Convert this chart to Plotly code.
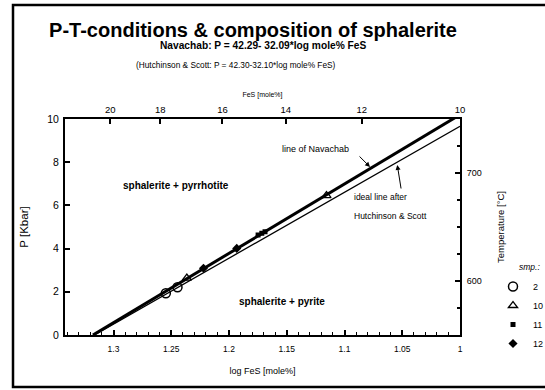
import plotly.graph_objects as go

# ---- data ----
nav_x = [1.3178, 1.0]          # line of Navachab (log FeS)
nav_P = [0.0, 10.2]
hs_x = [1.3165, 1.0]           # ideal line after Hutchinson & Scott
hs_P = [0.0, 9.66]

smp_names = ["2", "10", "11", "12"]
smp2_x = [1.2547, 1.2446]
smp2_P = [1.93, 2.21]
smp10_x = [1.2365, 1.1156]
smp10_P = [2.63, 6.45]
smp11_x = [1.1748, 1.1716, 1.1688]
smp11_P = [4.63, 4.71, 4.78]
smp12_x = [1.2221, 1.1933]
smp12_P = [3.09, 4.01]

top_tick_pos = [1.3029, 1.2596, 1.2057, 1.1509, 1.0851, 1.0]
top_tick_labels = ["20", "18", "16", "14", "12", "10"]

FONT = "Liberation Sans, Arial, sans-serif"

fig = go.Figure()

fig.add_trace(go.Scatter(x=nav_x, y=nav_P, mode="lines", line=dict(color="black", width=3),
                         showlegend=False, hoverinfo="skip"))
fig.add_trace(go.Scatter(x=hs_x, y=hs_P, mode="lines", line=dict(color="black", width=1.3),
                         showlegend=False, hoverinfo="skip"))

fig.add_trace(go.Scatter(x=smp2_x, y=smp2_P, mode="markers", name=smp_names[0],
                         marker=dict(symbol="circle-open", size=9, color="black", line=dict(color="black", width=1.5))))
fig.add_trace(go.Scatter(x=smp10_x, y=smp10_P, mode="markers", name=smp_names[1],
                         marker=dict(symbol="triangle-up-open", size=8, color="black", line=dict(color="black", width=1.3))))
fig.add_trace(go.Scatter(x=smp11_x, y=smp11_P, mode="markers", name=smp_names[2],
                         marker=dict(symbol="square", size=5, color="black")))
fig.add_trace(go.Scatter(x=smp12_x, y=smp12_P, mode="markers", name=smp_names[3],
                         marker=dict(symbol="diamond", size=7, color="black")))

# empty trace to activate the secondary axes
fig.add_trace(go.Scatter(x=[], y=[], xaxis="x2", yaxis="y2", showlegend=False, hoverinfo="skip"))

axis_common = dict(showline=True, linecolor="black", linewidth=2, ticks="inside",
                   tickcolor="black", tickwidth=1.5, ticklen=5, showgrid=False, zeroline=False)

fig.update_layout(
    width=545, height=390,
    margin=dict(l=65, r=85, t=119, b=55, autoexpand=False),
    paper_bgcolor="white", plot_bgcolor="white",
    font=dict(family=FONT, color="black"),
    title=dict(text="<b>P-T-conditions & composition of sphalerite</b>",
               font=dict(size=20, family=FONT, color="black"),
               x=(253 - 65) / 395, xref="paper", xanchor="center",
               y=1 - 30 / 390, yref="container", yanchor="middle"),
    xaxis=dict(range=[1.342, 1.0], tick0=1.0, dtick=0.05,
               tickfont=dict(size=8.5), ticklabelstandoff=5,
               minor=dict(dtick=0.01, ticks="inside", ticklen=3, tickcolor="black", tickwidth=1),
               title=dict(text="log FeS [mole%]", font=dict(size=9), standoff=14),
               **axis_common),
    xaxis2=dict(range=[1.342, 1.0], overlaying="x", side="top", anchor="y",
                tickmode="array", tickvals=top_tick_pos, ticktext=top_tick_labels,
                tickfont=dict(size=9.5),
                title=dict(text="FeS [mole%]", font=dict(size=7), standoff=6),
                **axis_common),
    yaxis=dict(range=[0, 10], tick0=0, dtick=2, tickfont=dict(size=10.5), ticklabelstandoff=2,
               title=dict(text="P [Kbar]", font=dict(size=11.5), standoff=16),
               **axis_common),
    yaxis2=dict(range=[550, 750], overlaying="y", side="right", anchor="x",
                tick0=600, dtick=100, tickfont=dict(size=9), ticklabelstandoff=3,
                minor=dict(dtick=25, tick0=550, ticks="inside", ticklen=3, tickcolor="black", tickwidth=1.5),
                title=dict(text="Temperature [°C]", font=dict(size=9.5), standoff=17),
                **axis_common),
    legend=dict(x=(493 - 65) / 395, y=(335 - 272) / 216, xanchor="left", yanchor="top",
                font=dict(size=9), bgcolor="rgba(0,0,0,0)", itemwidth=30,
                tracegroupgap=0),
    showlegend=True,
)

# legend heading
fig.add_annotation(text="<i>smp.:</i>", xref="paper", yref="paper",
                   x=(529 - 65) / 395, y=(335 - 267) / 216, showarrow=False,
                   font=dict(size=8.5), xanchor="center", yanchor="middle")

# subtitles
fig.add_annotation(text="<b>Navachab: P = 42.29- 32.09*log mole% FeS</b>", xref="paper", yref="paper",
                   x=0.5, y=(335 - 46) / 216, showarrow=False, font=dict(size=10.2),
                   xanchor="center", yanchor="middle")
fig.add_annotation(text="(Hutchinson & Scott: P = 42.30-32.10*log mole% FeS)", xref="paper", yref="paper",
                   x=0.4329, y=(335 - 65) / 216, showarrow=False, font=dict(size=8.3),
                   xanchor="center", yanchor="middle")

# field labels
fig.add_annotation(text="<b>sphalerite + pyrrhotite</b>", x=1.2458, y=6.94, showarrow=False,
                   font=dict(size=10))
fig.add_annotation(text="<b>sphalerite + pyrite</b>", x=1.1541, y=1.54, showarrow=False,
                   font=dict(size=10))
fig.add_annotation(text="line of Navachab", x=1.1255, y=8.61, showarrow=False, font=dict(size=9))
fig.add_annotation(text="ideal line after", x=1.0931, y=6.39, showarrow=False, font=dict(size=8.5),
                   xanchor="left")
fig.add_annotation(text="Hutchinson & Scott", x=1.0935, y=5.53, showarrow=False, font=dict(size=8.5),
                   xanchor="left")
# arrows
fig.add_annotation(x=1.0779, y=7.78, ax=-12, ay=-12, text="", showarrow=True,
                   arrowhead=2, arrowsize=1, arrowwidth=1, arrowcolor="black")
fig.add_annotation(x=1.0543, y=7.87, ax=4, ay=25, text="", showarrow=True,
                   arrowhead=2, arrowsize=1, arrowwidth=1, arrowcolor="black")

# outer frame of the figure
fig.add_shape(type="rect", xref="paper", yref="paper",
              x0=(13 - 65) / 395, x1=(570 - 65) / 395,
              y0=(335 - 387) / 216, y1=(335 - 5) / 216,
              line=dict(color="black", width=2.5), layer="below")

fig.write_html("out.html", config={"displayModeBar": False},
               post_script="document.body.style.margin='0';")
